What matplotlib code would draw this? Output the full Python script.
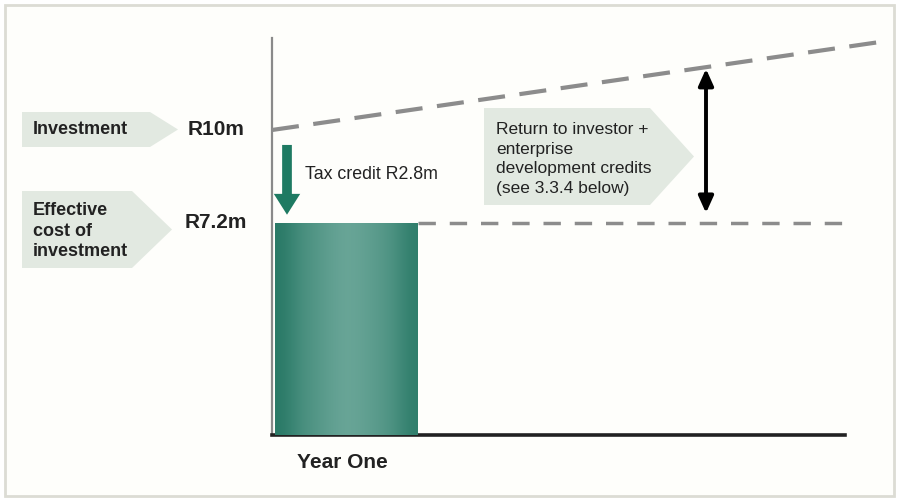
import matplotlib
matplotlib.use("Agg")
import matplotlib.pyplot as plt
import numpy as np
from matplotlib.patches import Polygon, Rectangle
from matplotlib.colors import LinearSegmentedColormap

# ---- data ----
categories = ["Year One"]
investment = 10.0          # R million
tax_credit = 2.8           # R million
effective_cost = investment - tax_credit
value_labels = ["R10m", "R7.2m"]
box_labels = ["Investment", "Effective\ncost of\ninvestment"]
tax_label = "Tax credit R2.8m"
return_label = "Return to investor +\nenterprise\ndevelopment credits\n(see 3.3.4 below)"
return_end = 12.65         # schematic end of growing return line

W, H = 899, 499
fig = plt.figure(figsize=(W / 100, H / 100), dpi=100)
fig.patch.set_facecolor("white")
FAM = "Liberation Sans"

def fx(px):
    return px / W

def fy(py):
    return 1 - py / H

# outer frame
fig.patches.append(Rectangle((fx(5), fy(496)), fx(889), (491) / H, transform=fig.transFigure,
                             fill=True, facecolor="#fefefb", edgecolor="#dcdcd4", lw=2, zorder=0))

# main axes (pixel box: x 272..845, y 38..435)
ax_l, ax_r, ax_t, ax_b = 272, 845, 38, 435
ax = fig.add_axes([fx(ax_l), fy(ax_b), fx(ax_r - ax_l), (ax_b - ax_t) / H])
ax.set_zorder(5)
ax.patch.set_visible(False)
px_per_m = (223 - 130) / tax_credit
ymin = effective_cost - (ax_b - 223) / px_per_m
ymax = investment + (130 - ax_t) / px_per_m
px_per_x = 143.0
xmax = (ax_r - ax_l) / px_per_x

for s in ["top", "right"]:
    ax.spines[s].set_visible(False)
ax.spines["left"].set_color("#8a8a8a")
ax.spines["left"].set_linewidth(1.6)
ax.spines["bottom"].set_color("#222222")
ax.spines["bottom"].set_linewidth(2.6)
ax.set_xticks([])
ax.set_yticks([])

# bar
bar_x0, bar_w = 0.02, 1.0
bars = ax.bar([bar_x0], [effective_cost], width=bar_w, align="edge",
              color="#4f9485", edgecolor="none", zorder=2)
grad = np.array([[0.0, 0.4, 0.6, 0.8, 0.95, 0.85, 0.7, 0.5, 0.1]])
cmap = LinearSegmentedColormap.from_list("tg", ["#2a7a67", "#6aa698"])
im = ax.imshow(grad, cmap=cmap, aspect="auto", interpolation="bicubic",
               extent=[bar_x0, bar_x0 + bar_w, ymin, effective_cost], zorder=3)
im.set_clip_path(bars[0])
ax.set_xlim(0, xmax)
ax.set_ylim(ymin, ymax)

# dashed lines
x_end = (880 - ax_l) / px_per_x
ax.plot([0, x_end], [investment, return_end], ls=(0, (6.5, 3.5)), color="#8c8c8c",
        lw=3, clip_on=False, zorder=4)
ax.plot([bar_x0 + bar_w, (848 - ax_l) / px_per_x], [effective_cost, effective_cost],
        ls=(0, (5, 4)), color="#8c8c8c", lw=2.5, clip_on=False, zorder=4)

# double arrow
xa = (706 - ax_l) / px_per_x
ya_top = investment + (return_end - investment) * xa / x_end
ax.annotate("", xy=(xa, ya_top - 0.05), xytext=(xa, effective_cost + 0.3),
            arrowprops=dict(arrowstyle="<|-|>,head_length=1.0,head_width=0.45",
                            color="black", lw=2.8, shrinkA=0, shrinkB=0), zorder=5)

# tax credit arrow (green)
xg = (287 - ax_l) / px_per_x
ax.annotate("", xy=(xg, effective_cost + 0.25), xytext=(xg, investment - 0.45),
            arrowprops=dict(arrowstyle="simple,head_length=1.5,head_width=1.9,tail_width=0.7",
                            color="#1e7a62", lw=0, shrinkA=0, shrinkB=0), zorder=5)
ax.text((305 - ax_l) / px_per_x, effective_cost + tax_credit / 2 + 0.05, tax_label,
        fontsize=12.8, color="#222222", va="center", ha="left", family=FAM)

# category label
ax.text((342 - ax_l) / px_per_x, ymin - (463 - ax_b) / px_per_m, categories[0],
        fontsize=15, fontweight="bold", color="#222222", ha="center", va="center",
        family=FAM, clip_on=False)

# left label boxes (figure pixel coordinates)
box_col = "#e2e9e1"
def pent(x0, y0, x1, y1, tip):
    ym = (y0 + y1) / 2
    pts = [(x0, y0), (x1, y0), (tip, ym), (x1, y1), (x0, y1)]
    return Polygon([(fx(a), fy(b)) for a, b in pts], closed=True, transform=fig.transFigure,
                   facecolor=box_col, edgecolor="none", zorder=1)

fig.patches.append(pent(22, 112, 150, 147, 178))
fig.patches.append(pent(22, 191, 132, 268, 172))
fig.patches.append(pent(484, 108, 650, 205, 694))

fig.text(fx(33), fy(130), box_labels[0], fontsize=13, fontweight="bold", color="#222222",
         va="center", ha="left", family=FAM)
fig.text(fx(33), fy(231), box_labels[1], fontsize=13, fontweight="bold", color="#222222",
         va="center", ha="left", linespacing=1.28, family=FAM)
fig.text(fx(496), fy(159), return_label, fontsize=12.5, color="#222222",
         va="center", ha="left", linespacing=1.4, family=FAM)

# value labels beside the axis
ax.text(-(272 - 216) / px_per_x, investment, value_labels[0], fontsize=15, fontweight="bold",
        color="#222222", ha="center", va="center", family=FAM, clip_on=False)
ax.text(-(272 - 216) / px_per_x, effective_cost, value_labels[1], fontsize=15, fontweight="bold",
        color="#222222", ha="center", va="center", family=FAM, clip_on=False)

fig.savefig("out.png", dpi=100)
